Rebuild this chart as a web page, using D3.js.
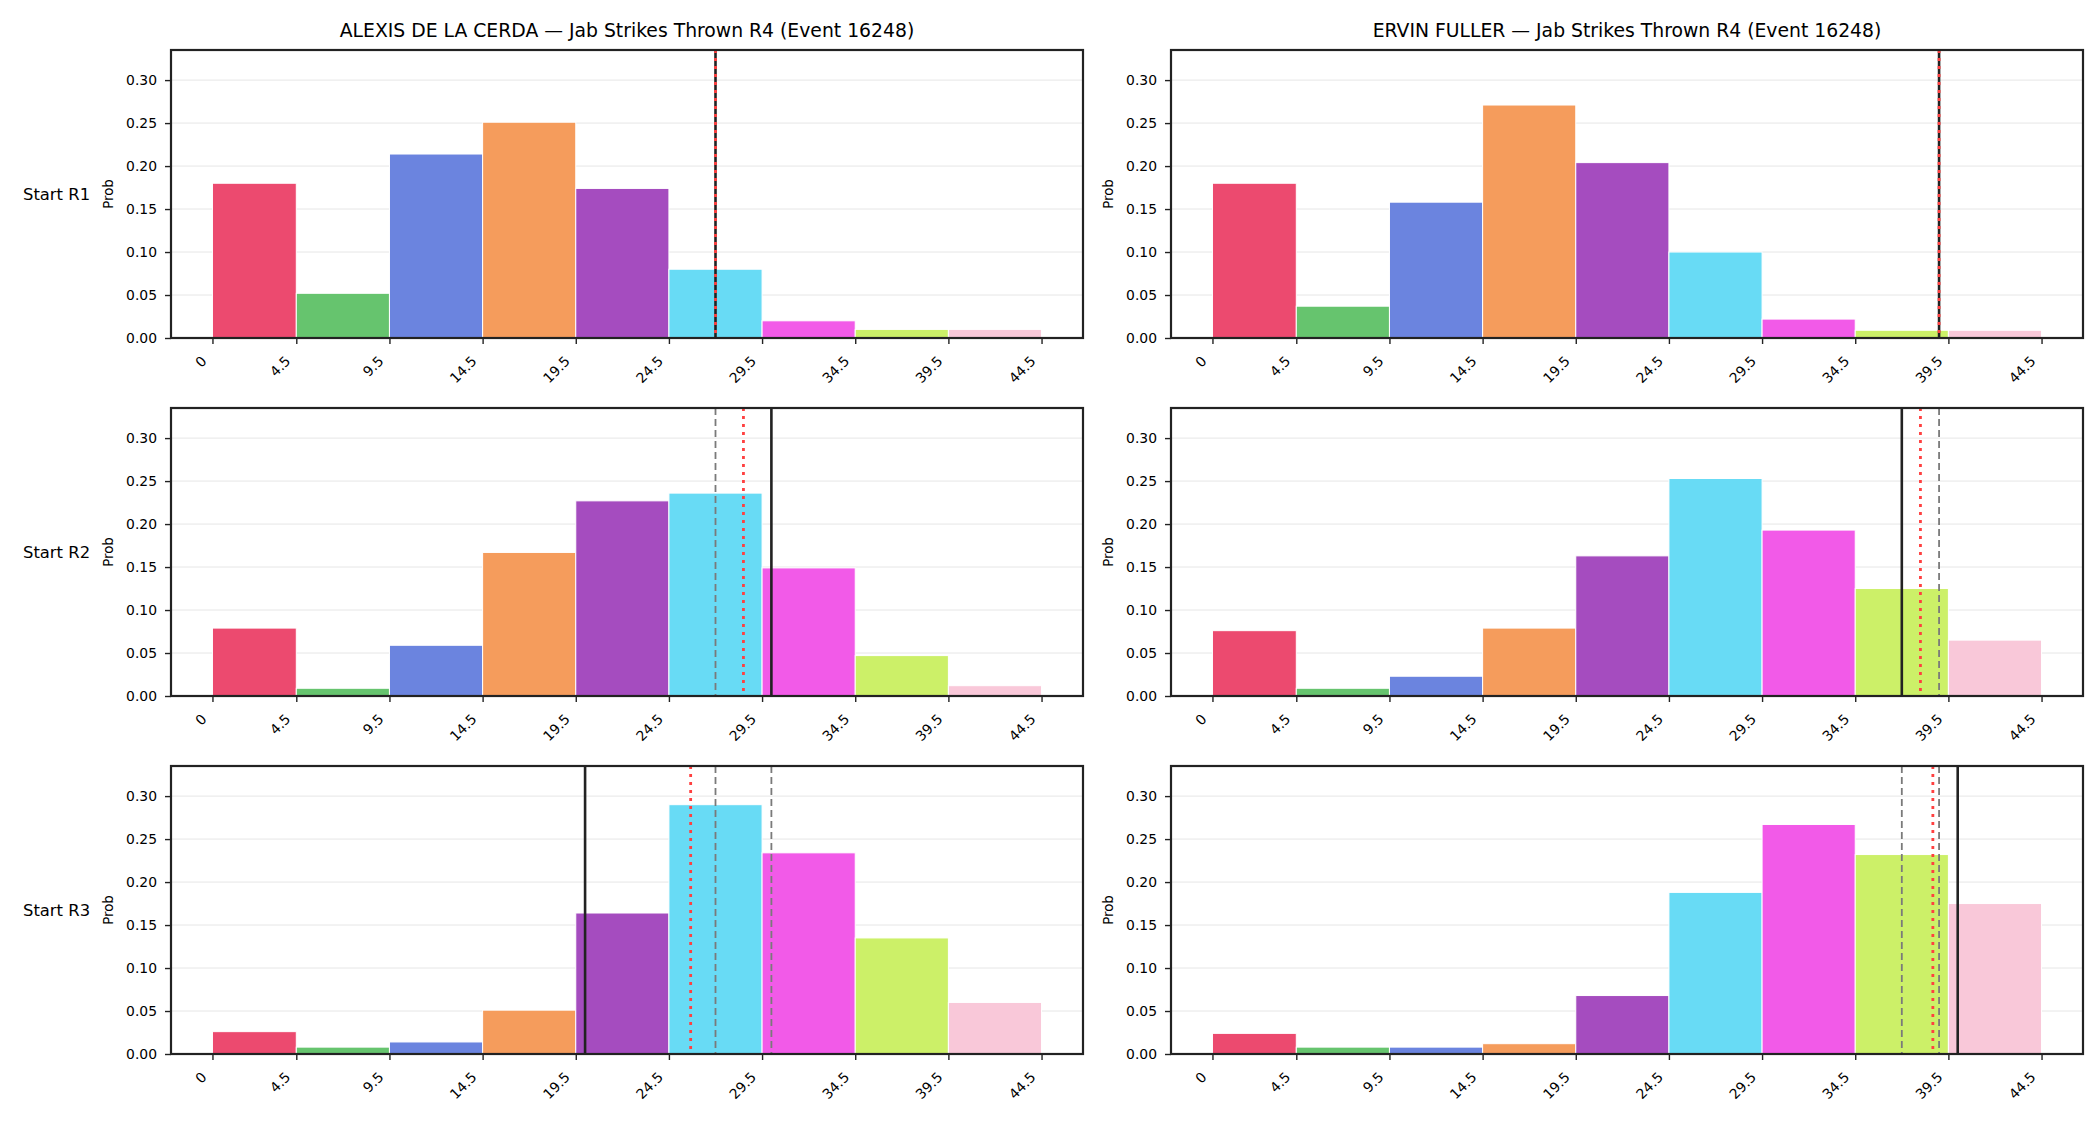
<!DOCTYPE html>
<html>
  <head>
    <meta charset="UTF-8">
    <title>Jab Strikes Thrown R4</title>
    <style>
      body {margin: 0; background: #fff;}
      svg {display: block; font-family: "DejaVu Sans", sans-serif;}
      .tick line {stroke: #222; stroke-width: 1.4;}
      .domain {display: none;}
    </style>
  </head>
  <body>
    <div id="chart"></div>
    <script src="https://d3js.org/d3.v7.min.js"></script>
    <script>

// bin edges (strikes) and their tick labels
const edges = [0, 4.5, 9.5, 14.5, 19.5, 24.5, 29.5, 34.5, 39.5, 44.5];
const edgeLabels = ["0", "4.5", "9.5", "14.5", "19.5", "24.5", "29.5", "34.5", "39.5", "44.5"];
const binColors = ["#ec4a6f", "#66c46e", "#6b84df", "#f59c5c", "#a54cbf", "#68dbf5", "#f25ae8", "#ccf068", "#f9c8d9"];

const rounds = ["Start R1", "Start R2", "Start R3"];
const fighters = ["ALEXIS DE LA CERDA", "ERVIN FULLER"];
const yTicks = [0, 0.05, 0.10, 0.15, 0.20, 0.25, 0.30];

// probability per bin, one row per starting round
const alexisProbs = [
  [0.180, 0.052, 0.214, 0.251, 0.174, 0.080, 0.020, 0.010, 0.010],
  [0.079, 0.009, 0.059, 0.167, 0.227, 0.236, 0.149, 0.047, 0.012],
  [0.026, 0.008, 0.014, 0.051, 0.164, 0.290, 0.234, 0.135, 0.060]
];
const ervinProbs = [
  [0.180, 0.037, 0.158, 0.271, 0.204, 0.100, 0.022, 0.009, 0.009],
  [0.076, 0.009, 0.023, 0.079, 0.163, 0.253, 0.193, 0.125, 0.065],
  [0.024, 0.008, 0.008, 0.012, 0.068, 0.188, 0.267, 0.232, 0.175]
];
// jabs thrown in each completed round
const alexisActual = [27, 30, 20];
const ervinActual = [39, 37, 40];

const panelsProbs = [alexisProbs, ervinProbs];
const panelsActual = [alexisActual, ervinActual];

const W = 2100, H = 1125;
const colLeft = [171, 1171], axW = 912;
const rowTop = [50, 408, 766], axH = 288;

const svg = d3.select("#chart").append("svg").attr("width", W).attr("height", H);

const pad = 44.5 * 0.05;
const x = d3.scaleLinear().domain([-pad, 44.5 + pad]).range([0, axW]);
const y = d3.scaleLinear().domain([0, 0.335]).range([axH, 0]);

fighters.forEach((name, c) => {
  rounds.forEach((rl, r) => {
    const g = svg.append("g").attr("transform", `translate(${colLeft[c]},${rowTop[r]})`);
    const probs = panelsProbs[c][r];
    const actual = panelsActual[c];

    // grid
    g.selectAll(".grid").data(yTicks).join("line")
      .attr("x1", 0).attr("x2", axW)
      .attr("y1", d => y(d)).attr("y2", d => y(d))
      .attr("stroke", "#e6e6e6").attr("stroke-width", 1);

    // bars
    g.selectAll(".bar").data(probs).join("rect")
      .attr("x", (d, i) => x(edges[i]))
      .attr("width", (d, i) => x(edges[i + 1]) - x(edges[i]))
      .attr("y", d => y(d))
      .attr("height", d => y(0) - y(d))
      .attr("fill", (d, i) => binColors[i])
      .attr("stroke", "#fff").attr("stroke-width", 1);

    // previous rounds (gray dashed)
    const prev = actual.slice(0, r);
    g.selectAll(".prev").data(prev).join("line")
      .attr("x1", d => x(d)).attr("x2", d => x(d))
      .attr("y1", 0).attr("y2", axH)
      .attr("stroke", "#7a7a7a").attr("stroke-width", 1.8)
      .attr("stroke-dasharray", "7,4");

    // current round (black solid)
    const cur = actual[r];
    g.append("line")
      .attr("x1", x(cur)).attr("x2", x(cur))
      .attr("y1", 0).attr("y2", axH)
      .attr("stroke", "#222").attr("stroke-width", 2.6);

    // running mean (red dotted)
    const mean = d3.mean(actual.slice(0, r + 1));
    g.append("line")
      .attr("x1", x(mean)).attr("x2", x(mean))
      .attr("y1", 0).attr("y2", axH)
      .attr("stroke", "#ff4040").attr("stroke-width", 2.8)
      .attr("stroke-dasharray", "3,5");

    // axes
    const xa = g.append("g").attr("transform", `translate(0,${axH})`)
      .call(d3.axisBottom(x).tickValues(edges)
        .tickFormat((d, i) => edgeLabels[i]).tickSize(6).tickPadding(0));
    xa.attr("font-family", "DejaVu Sans").attr("font-size", 13.9);
    xa.selectAll("text")
      .style("font-size", "13.9px")
      .attr("fill", "#000")
      .attr("text-anchor", "end")
      .attr("dy", 0)
      .attr("transform", "translate(-5.5,24) rotate(-45)")
      .attr("y", 0);

    const ya = g.append("g")
      .call(d3.axisLeft(y).tickValues(yTicks).tickFormat(d3.format(".2f")).tickSize(6).tickPadding(8));
    ya.attr("font-family", "DejaVu Sans").attr("font-size", 13.9);
    ya.selectAll("text").style("font-size", "13.9px").attr("fill", "#000");

    g.append("rect")
      .attr("width", axW).attr("height", axH)
      .attr("fill", "none").attr("stroke", "#222").attr("stroke-width", 2.2);

    g.append("text")
      .attr("transform", `translate(-63,${axH / 2}) rotate(-90)`)
      .attr("text-anchor", "middle")
      .attr("dy", "0.35em")
      .style("font-size", "13.3px")
      .text("Prob");

    if (r === 0) {
      g.append("text")
        .attr("x", axW / 2).attr("y", -13)
        .attr("text-anchor", "middle")
        .style("font-size", "18.8px")
        .text(`${name} — Jab Strikes Thrown R4 (Event 16248)`);
    }
    if (c === 0) {
      svg.append("text")
        .attr("x", 23).attr("y", rowTop[r] + axH / 2)
        .attr("dy", "0.35em")
        .style("font-size", "16.4px")
        .text(rl);
    }
  });
});

    </script>
  </body>
</html>
